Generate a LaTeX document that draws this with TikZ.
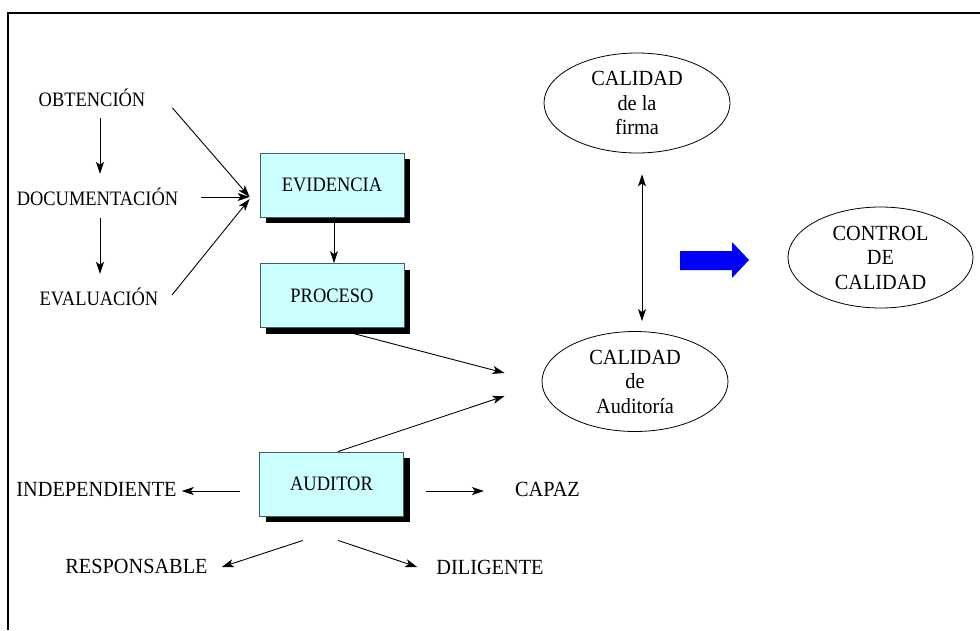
\documentclass[tikz,border=0pt]{standalone}
\usepackage{fontspec}
\setmainfont{Liberation Serif}
\newfontfamily\narrowserif[FakeStretch=0.9]{Liberation Serif}
\newfontfamily\semiserif[FakeStretch=0.94]{Liberation Serif}
\usetikzlibrary{arrows.meta,calc,shapes.geometric,shadows}
\definecolor{boxfill}{HTML}{CCFFFF}
\definecolor{boxline}{HTML}{3F5F5F}
\definecolor{bigblue}{HTML}{0000FF}
\begin{document}
\begin{tikzpicture}[x=1pt,y=-1pt,
  lbl/.style={inner sep=0pt, text height=13.5pt, text depth=0pt, anchor=base,
    font=\narrowserif\fontsize{20.5}{24}\selectfont},
  lblbig/.style={lbl, font=\semiserif\fontsize{21.6}{25}\selectfont},
  stagebox/.style={draw=boxline, line width=0.8pt, fill=boxfill,
    minimum width=144pt, minimum height=64pt, inner sep=0pt,
    text height=13.5pt, text depth=0pt,
    font=\narrowserif\fontsize{20.5}{24}\selectfont,
    drop shadow={shadow xshift=6pt, shadow yshift=-6pt, fill=black, opacity=1}},
  oval/.style={draw, ellipse, line width=0.8pt, minimum width=186pt,
    minimum height=100pt, inner sep=0pt, align=center,
    font=\semiserif\fontsize{21.6}{24.5}\selectfont},
  arr/.style={-{Stealth[length=12pt,width=8pt,inset=3pt]}, line width=0.9pt},
  dblarr/.style={{Stealth[length=12pt,width=8pt,inset=3pt]}-{Stealth[length=12pt,width=8pt,inset=3pt]}, line width=0.9pt},
]
\useasboundingbox (0,0) rectangle (980,630);
\fill[white] (0,0) rectangle (980,630);

% outer frame
\draw[line width=2.5pt] (8,630) -- (8,13) -- (980,13);

% audit stages
\node[lbl] (obt)  at (92,106)  {OBTENCIÓN};
\node[lbl] (doc)  at (97.5,205) {DOCUMENTACIÓN};
\node[lbl] (eval) at (99,305)  {EVALUACIÓN};

% boxes
\node[stagebox] (evid)  at (332,185)   {EVIDENCIA};
\node[stagebox] (proc)  at (332,295.5) {PROCESO};
\node[stagebox] (audit) at (331.5,484) {AUDITOR};

% auditor qualities
\node[lblbig] (indep) at (96.5,496) {INDEPENDIENTE};
\node[lblbig] (capaz) at (547.5,496) {CAPAZ};
\node[lblbig] (resp)  at (136.5,573) {RESPONSABLE};
\node[lblbig] (dilig) at (490,574) {DILIGENTE};

% quality ellipses
\node[oval] (firma)   at (637,103)     {CALIDAD\\de la\\firma};
\node[oval] (calaud)  at (635,381.5)   {CALIDAD\\de\\Auditoría};
\node[oval, minimum width=185pt, minimum height=101pt] (control) at (880.5,257.5) {CONTROL\\DE\\CALIDAD};

% connectors
\draw[arr] ($(obt.south)+(8,12)$) -- ($(doc.north)+(2.5,-17.5)$);
\draw[arr] ($(doc.south)+(2.5,13)$) -- ($(eval.north)+(1,-17.5)$);
\draw[arr] ($(obt.east)+(27,8.75)$) -- ($(evid.west)+(-10,12)$);
\draw[arr] ($(doc.east)+(23,-1.25)$) -- ($(evid.west)+(-10,12)$);
\draw[arr] ($(eval.east)+(13.5,-3.25)$) -- ($(evid.west)+(-10,14)$);
\draw[arr] ($(evid.south)+(2,0)$) -- ($(proc.north)+(2,0)$);
\draw[arr] ($(proc.south)+(21,5.5)$) -- ($(calaud.west)+(-37,-8.5)$);
\draw[arr] ($(audit.north)+(6.5,0)$) -- ($(calaud.west)+(-37,14.5)$);
\draw[arr] ($(audit.west)+(-19.5,7)$) -- ($(indep.east)+(5,1.75)$);
\draw[arr] ($(audit.east)+(22.5,7)$) -- ($(capaz.west)+(-31,1.75)$);
\draw[arr] ($(audit.south)+(-28.5,24)$) -- ($(resp.east)+(14,0.75)$);
\draw[arr] ($(audit.south)+(6.5,24)$) -- ($(dilig.west)+(-19,-0.25)$);
\draw[dblarr] ($(firma.south)+(5,21)$) -- ($(calaud.north)+(7,-10)$);

% block arrow towards quality control
\fill[bigblue] (680,251) -- (732,251) -- (732,242) -- (749,260)
  -- (732,278) -- (732,270) -- (680,270) -- cycle;
\end{tikzpicture}
\end{document}
